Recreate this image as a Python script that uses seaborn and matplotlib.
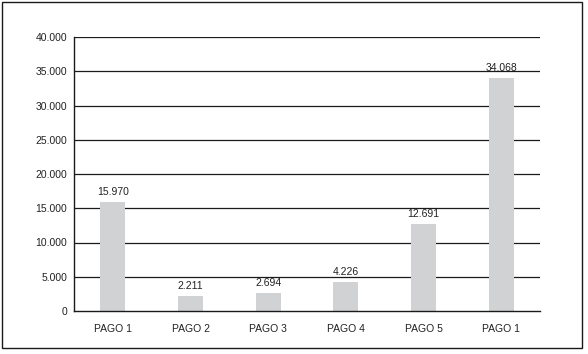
import matplotlib
matplotlib.use("Agg")
import matplotlib.pyplot as plt
import seaborn as sns
import pandas as pd
from matplotlib.patches import Rectangle

categories = ["PAGO 1", "PAGO 2", "PAGO 3", "PAGO 4", "PAGO 5", "PAGO 1"]
values = [15970, 2211, 2694, 4226, 12691, 34068]
value_labels = ["15.970", "2.211", "2.694", "4.226", "12.691", "34.068"]
yticks = [0, 5000, 10000, 15000, 20000, 25000, 30000, 35000, 40000]
ytick_labels = ["0", "5.000", "10.000", "15.000", "20.000", "25.000", "30.000", "35.000", "40.000"]

sns.set_style("white")
plt.rcParams['font.family'] = ['Liberation Sans', 'DejaVu Sans']

df = pd.DataFrame({"pos": list(range(len(values))), "value": values})

fig = plt.figure(figsize=(5.88, 3.54), dpi=100)
ax = fig.add_axes([74/588, 1 - 311/354, (540-74)/588, (311-37)/354])

sns.barplot(data=df, x="pos", y="value", color="#d1d2d4", width=0.32,
            saturation=1, linewidth=0, ax=ax, zorder=2)

ax.set_ylim(0, 40000)
ax.set_yticks(yticks)
ax.set_yticklabels(ytick_labels, fontsize=7.5, color="#222222")
ax.set_xticks(range(len(categories)))
ax.set_xticklabels(categories, fontsize=7.5, color="#222222")
ax.set_xlabel("")
ax.set_ylabel("")
ax.set_xlim(-0.5, len(values) - 0.5)

for y in yticks[1:]:
    ax.axhline(y, color="#1a1a1a", lw=0.9, zorder=1)

for s in ["top", "right"]:
    ax.spines[s].set_visible(False)
for s in ["left", "bottom"]:
    ax.spines[s].set_color("#1a1a1a")
    ax.spines[s].set_linewidth(1.0)
    ax.spines[s].set_zorder(3)

ax.tick_params(axis="y", length=3, width=0.9, color="#1a1a1a", pad=2)
ax.tick_params(axis="x", length=0, pad=9)

for i, (v, lab) in enumerate(zip(values, value_labels)):
    ax.annotate(lab, (i, v), xytext=(0, 3.5), textcoords="offset points",
                ha="center", va="bottom", fontsize=7.5, color="#222222")

fig.patches.append(Rectangle((2/588, 1 - 348/354), 580/588, 346/354,
                             transform=fig.transFigure, fill=False,
                             edgecolor="#1a1a1a", lw=1.0))

fig.savefig("out.png", dpi=100)
